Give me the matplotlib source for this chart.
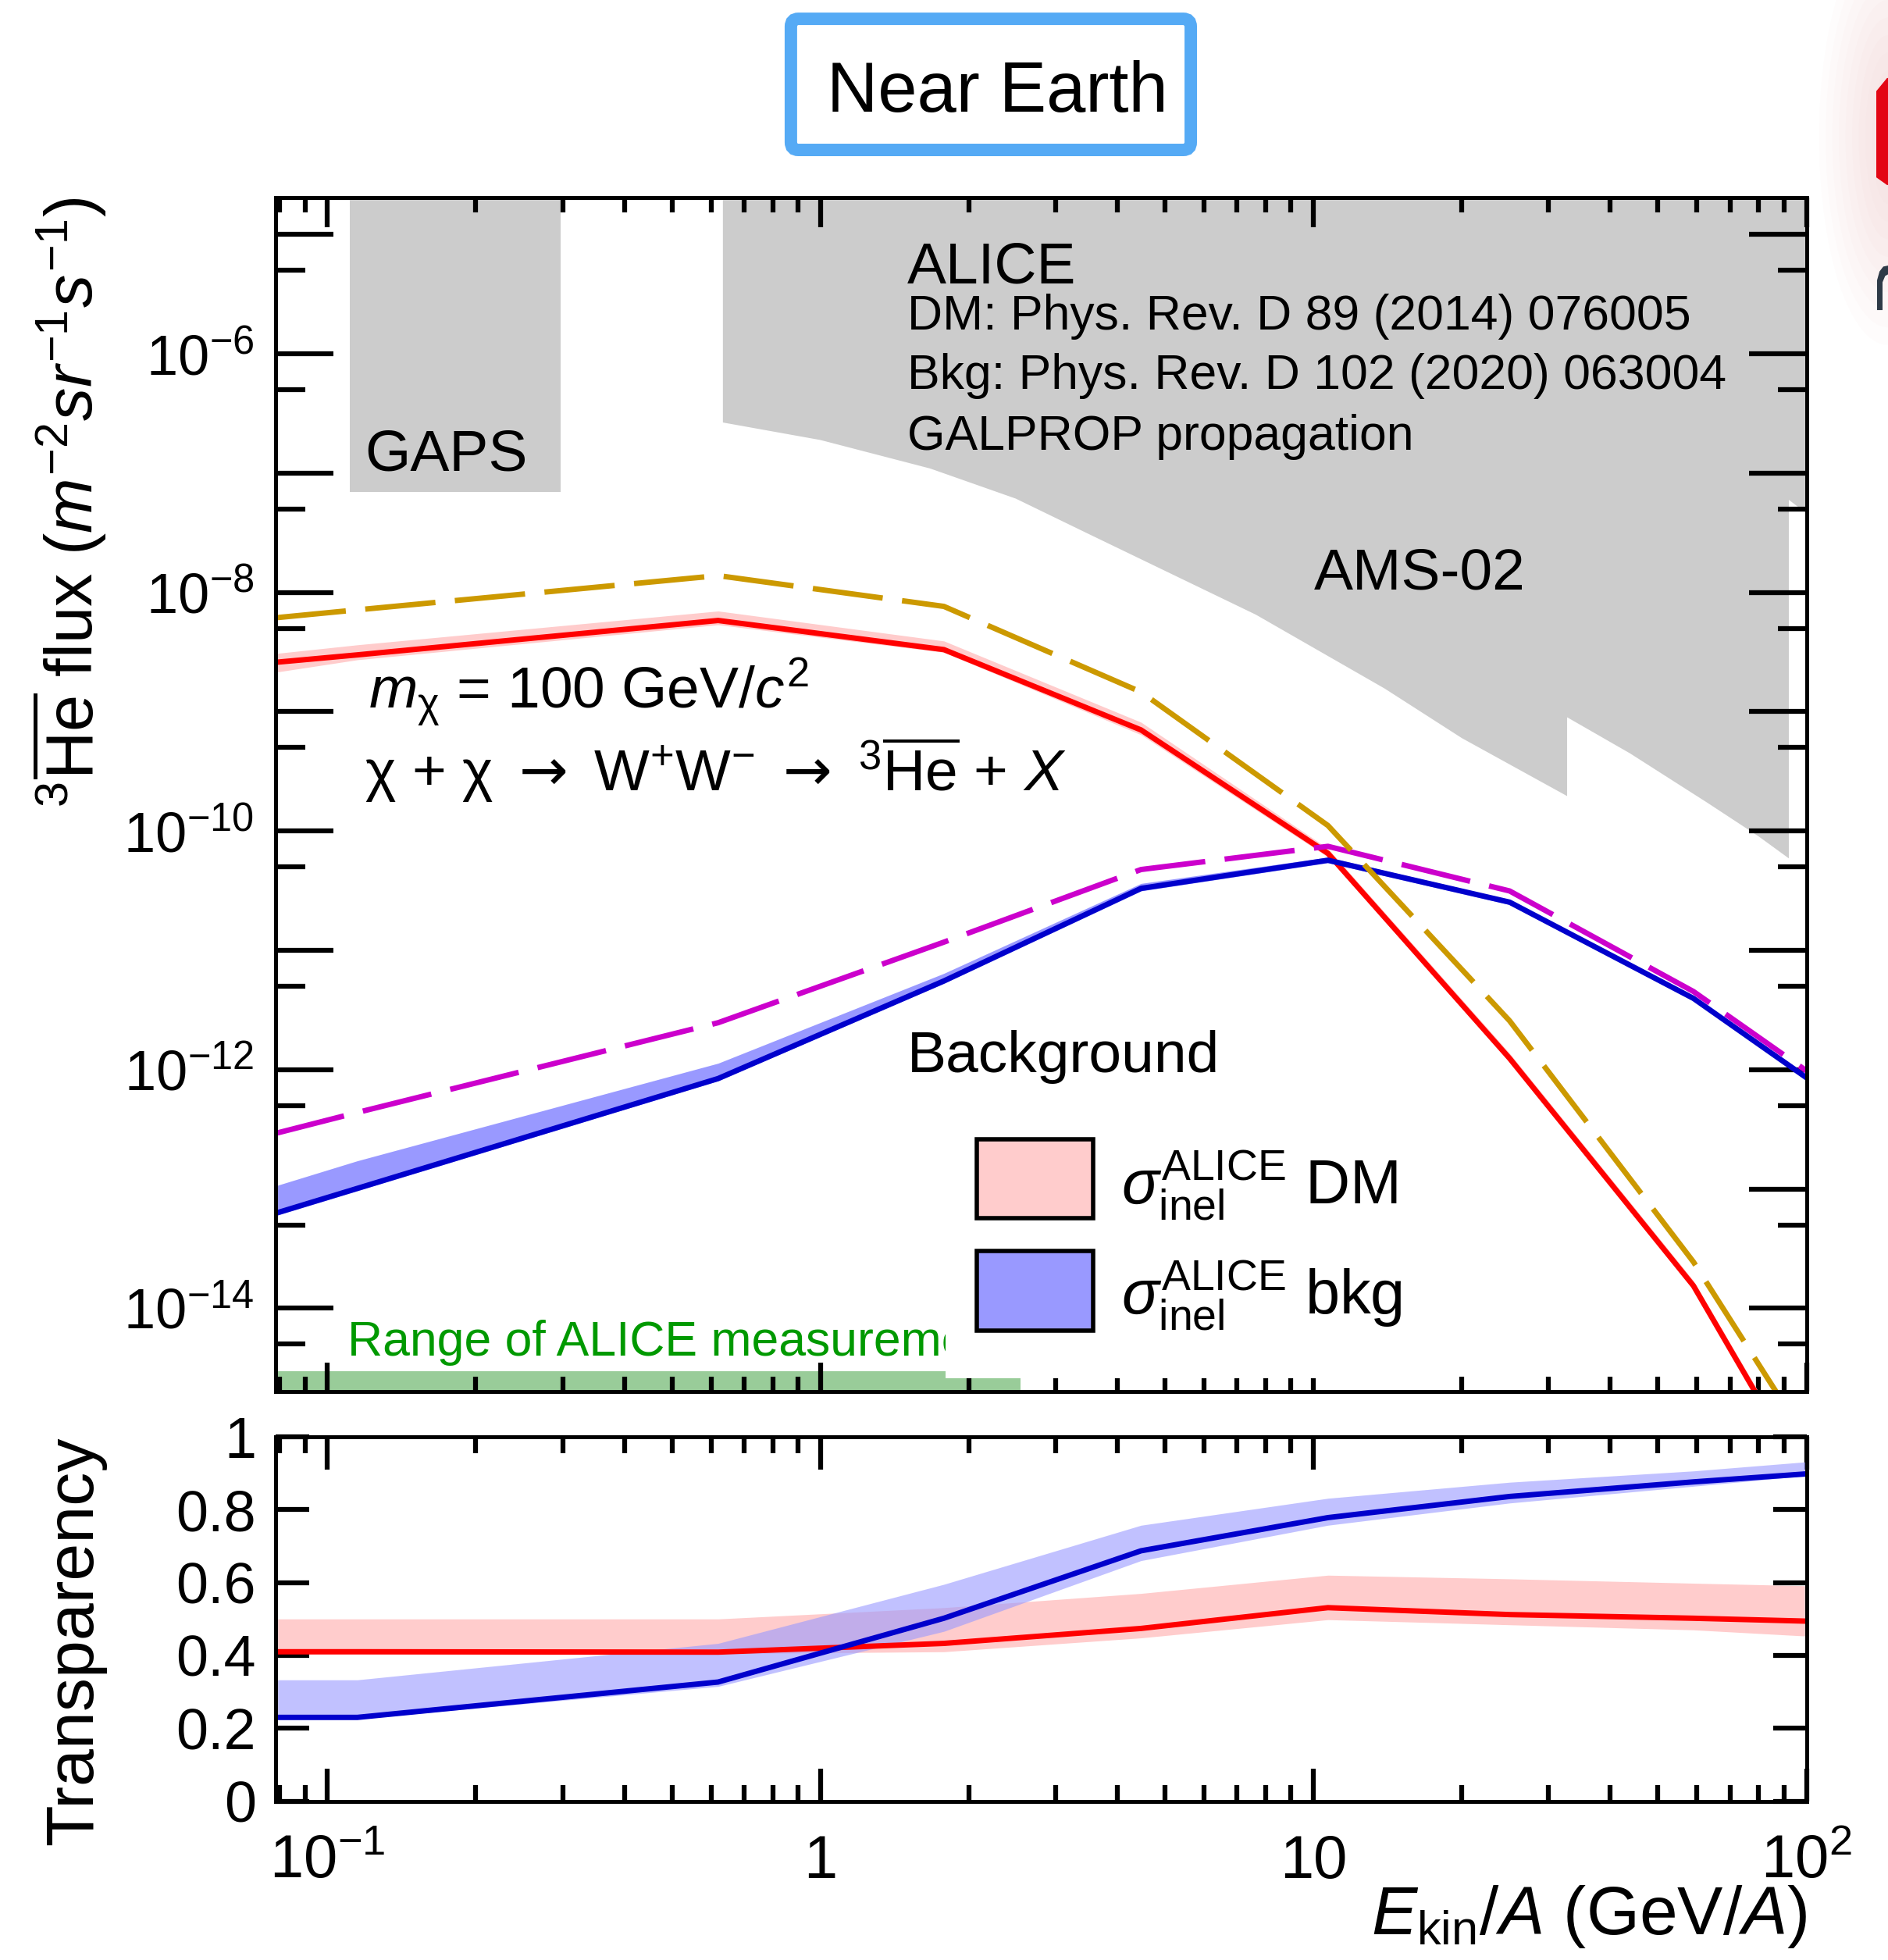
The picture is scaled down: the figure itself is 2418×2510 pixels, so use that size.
import numpy as np
import matplotlib
matplotlib.use("Agg")
import matplotlib.pyplot as plt
from matplotlib.patches import Rectangle, FancyBboxPatch, Polygon, Ellipse
from matplotlib.ticker import FixedLocator, FixedFormatter, LogLocator, NullFormatter

plt.rcParams["font.family"] = ["Liberation Sans", "DejaVu Sans"]
plt.rcParams["mathtext.fontset"] = "custom"
plt.rcParams["mathtext.rm"] = "Liberation Sans"
plt.rcParams["mathtext.it"] = "Liberation Sans:italic"
plt.rcParams["mathtext.bf"] = "Liberation Sans:bold"
plt.rcParams["mathtext.sf"] = "DejaVu Sans"
plt.rcParams["mathtext.fallback"] = "stixsans"

# kinetic energy per nucleon (GeV/A), grid shared by all curves
energy = [0.0785, 0.115, 0.62, 1.78, 4.47, 10.7, 25.0, 59.0, 100.0]

# 3He-bar flux near Earth (m^-2 sr^-1 s^-1)
dm_flux = [2.59e-9, 2.99e-9, 5.81e-9, 3.31e-9, 7.02e-10, 6.49e-11, 1.24e-12, 1.54e-14, 3.62e-16]
dm_flux_hi = [3.07e-9, 3.63e-9, 6.97e-9, 3.91e-9, 8.15e-10, 7.13e-11, 1.37e-12, 1.70e-14, 4.1e-16]
dm_flux_lo = [2.14e-9, 2.72e-9, 5.35e-9, 3.14e-9, 6.40e-10, 6.03e-11, 1.16e-12, 1.44e-14, 3.34e-16]
dm_flux_ref = [6.12e-9, 7.13e-9, 1.38e-8, 7.62e-9, 1.46e-9, 1.11e-10, 2.56e-12, 2.44e-14, 7.96e-16]

bkg_flux = [6.25e-14, 1.01e-13, 8.41e-13, 5.53e-12, 3.30e-11, 5.68e-11, 2.53e-11, 3.95e-12, 8.55e-13]
bkg_flux_hi = [1.06e-13, 1.72e-13, 1.13e-12, 6.40e-12, 3.63e-11, 6.03e-11, 2.65e-11, 4.15e-12, 9.08e-13]
bkg_flux_lo = [5.96e-14, 9.64e-14, 8.05e-13, 5.28e-12, 3.14e-11, 5.41e-11, 2.41e-11, 3.77e-12, 8.15e-13]
bkg_flux_ref = [2.92e-13, 4.37e-13, 2.47e-12, 1.17e-11, 4.75e-11, 7.43e-11, 3.14e-11, 4.51e-12, 9.77e-13]

# transparency
dm_transp = [0.410, 0.410, 0.409, 0.433, 0.474, 0.531, 0.512, 0.502, 0.494]
dm_transp_hi = [0.500, 0.500, 0.500, 0.531, 0.570, 0.620, 0.610, 0.598, 0.591]
dm_transp_lo = [0.405, 0.405, 0.405, 0.410, 0.448, 0.498, 0.484, 0.470, 0.453]
bkg_transp = [0.230, 0.230, 0.327, 0.502, 0.687, 0.778, 0.836, 0.876, 0.898]
bkg_transp_hi = [0.333, 0.333, 0.433, 0.595, 0.757, 0.831, 0.875, 0.906, 0.931]
bkg_transp_lo = [0.226, 0.226, 0.315, 0.466, 0.660, 0.757, 0.818, 0.864, 0.893]

# experimental sensitivities
gaps_energy = [0.111, 0.297]
gaps_flux_min = 6.9e-8
ams_energy = [0.634, 1.0, 1.67, 2.49, 3.49, 7.64, 13.95, 20.0, 32.7, 32.7, 43.9, 63.0, 80.0, 92.1, 92.1, 100.0]
ams_flux = [2.65e-7, 1.89e-7, 1.09e-7, 6.1e-8, 3.1e-8, 6.5e-9, 1.56e-9, 6.0e-10, 1.96e-10, 8.97e-10,
            4.46e-10, 1.72e-10, 9.0e-11, 5.89e-11, 5.96e-8, 4.6e-8]
alice_range_energy = [0.0785, 2.55]
alice_range_top = 2.96e-15

y_tick_values = [1e-15, 1e-14, 1e-13, 1e-12, 1e-11, 1e-10, 1e-9, 1e-8, 1e-7, 1e-6, 1e-5]
y_tick_labels = ["", r"$10^{-14}$", "", r"$10^{-12}$", "", r"$10^{-10}$", "", r"$10^{-8}$", "",
                 r"$10^{-6}$", ""]
y_minor_values = [5e-15, 5e-14, 5e-13, 5e-12, 5e-11, 5e-10, 5e-9, 5e-8, 5e-7, 5e-6]
x_tick_values = [0.1, 1, 10, 100]
x_tick_labels = [r"$10^{-1}$", "1", "10", r"$10^{2}$"]
t_tick_values = [0, 0.2, 0.4, 0.6, 0.8, 1.0]
t_tick_labels = ["0", "0.2", "0.4", "0.6", "0.8", "1"]

RED = "#ff0000"
PINK = "#ffcccc"
BLUE = "#0000cc"
LBLUE = "#9999ff"
GOLD = "#cc9900"
MAG = "#cc00cc"
GRAY = "#cccccc"
LW = 5.0
DASH = (13, 3.6)

fig = plt.figure(figsize=(24.18, 25.10), dpi=100)
ax1 = fig.add_axes([0.1460, 0.2900, 0.8108, 0.6094])
ax2 = fig.add_axes([0.1460, 0.0810, 0.8108, 0.1860])

xmin, xmax = 0.0785, 100.0
ymin, ymax = 2.0e-15, 2.05e-5

# ---- top panel: flux
ax1.set_xscale("log")
ax1.set_yscale("log")
ax1.set_xlim(xmin, xmax)
ax1.set_ylim(ymin, ymax)

ax1.fill_between(gaps_energy, gaps_flux_min, 1e-3, color=GRAY, lw=0, zorder=1)
ams_poly = list(zip(ams_energy, ams_flux)) + [(ams_energy[-1], 1e-3), (ams_energy[0], 1e-3)]
ax1.add_patch(Polygon(ams_poly, closed=True, fc=GRAY, ec="none", zorder=1))
ax1.fill_between(alice_range_energy, 1e-17, alice_range_top, color="#99cc99", lw=0, zorder=1)

ax1.fill_between(energy, dm_flux_lo, dm_flux_hi, color=PINK, lw=0, zorder=2)
ax1.fill_between(energy, bkg_flux_lo, bkg_flux_hi, color=LBLUE, lw=0, zorder=2)
ax1.plot(energy, dm_flux, color=RED, lw=LW, zorder=3)
ax1.plot(energy, bkg_flux, color=BLUE, lw=LW, zorder=3)
ax1.plot(energy, bkg_flux_ref, color=MAG, lw=LW, dashes=DASH, zorder=3)
ax1.plot(energy, dm_flux_ref, color=GOLD, lw=LW, dashes=DASH, zorder=3)

ax1.yaxis.set_major_locator(FixedLocator(y_tick_values))
ax1.yaxis.set_major_formatter(FixedFormatter(y_tick_labels))
ax1.yaxis.set_minor_locator(FixedLocator(y_minor_values))
ax1.yaxis.set_minor_formatter(NullFormatter())
ax1.xaxis.set_major_locator(FixedLocator(x_tick_values))
ax1.xaxis.set_minor_locator(LogLocator(base=10, subs=range(2, 10), numticks=20))
ax1.xaxis.set_major_formatter(NullFormatter())
ax1.xaxis.set_minor_formatter(NullFormatter())

tx = ax1.transAxes
ax1.text(0.4124, 0.9280, "ALICE", fontsize=54, transform=tx, zorder=4)
ax1.text(0.4124, 0.8890, "DM: Phys. Rev. D 89 (2014) 076005", fontsize=45, transform=tx, zorder=4)
ax1.text(0.4124, 0.8395, "Bkg: Phys. Rev. D 102 (2020) 063004", fontsize=45, transform=tx, zorder=4)
ax1.text(0.4124, 0.7887, "GALPROP propagation", fontsize=45, transform=tx, zorder=4)
ax1.text(0.0583, 0.7710, "GAPS", fontsize=54, transform=tx, zorder=4)
ax1.text(0.6784, 0.6715, "AMS-02", fontsize=54, transform=tx, zorder=4)
ax1.text(0.0607, 0.5712, r"$m_{\rm \chi}$ = 100 GeV/$c^{2}$", fontsize=54, transform=tx, zorder=4)
ax1.text(0.0580, 0.5025,
         r"${\rm \chi}$ + ${\rm \chi}$ $\mathsf{\rightarrow}$ W$^{+}$W$^{-}$ $\mathsf{\rightarrow}$ "
         r"$^{3}\overline{\rm He}$ + $X$",
         fontsize=54, transform=tx, zorder=4)
ax1.text(0.4124, 0.2676, "Background", fontsize=54, transform=tx, zorder=4)
ax1.text(0.0468, 0.0299, "Range of ALICE measurement", fontsize=45, color="#009900",
         transform=tx, zorder=4)

# legend (white box hides part of the green label)
ax1.add_patch(Rectangle((0.4378, 0.0110), 0.33, 0.234, transform=tx, fc="white", ec="none", zorder=5))
ax1.add_patch(Rectangle((0.4580, 0.1450), 0.0760, 0.0665, transform=tx, fc=PINK, ec="black", lw=4, zorder=6))
ax1.add_patch(Rectangle((0.4580, 0.0510), 0.0760, 0.0665, transform=tx, fc=LBLUE, ec="black", lw=4, zorder=6))
ax1.text(0.5526, 0.1574, r"$\sigma^{\rm ALICE}_{\rm inel}$ DM", fontsize=57, transform=tx, zorder=6)
ax1.text(0.5526, 0.0649, r"$\sigma^{\rm ALICE}_{\rm inel}$ bkg", fontsize=57, transform=tx, zorder=6)

# ---- bottom panel: transparency
ax2.set_xscale("log")
ax2.set_xlim(xmin, xmax)
ax2.set_ylim(0, 1)
ax2.fill_between(energy, dm_transp_lo, dm_transp_hi, color=PINK, lw=0, zorder=1)
ax2.fill_between(energy, bkg_transp_lo, bkg_transp_hi, color=LBLUE, alpha=0.6, lw=0, zorder=2)
ax2.plot(energy, dm_transp, color=RED, lw=LW, zorder=3)
ax2.plot(energy, bkg_transp, color=BLUE, lw=LW, zorder=3)

ax2.xaxis.set_major_locator(FixedLocator(x_tick_values))
ax2.xaxis.set_major_formatter(FixedFormatter(x_tick_labels))
ax2.xaxis.set_minor_locator(LogLocator(base=10, subs=range(2, 10), numticks=20))
ax2.xaxis.set_minor_formatter(NullFormatter())
ax2.yaxis.set_major_locator(FixedLocator(t_tick_values))
ax2.yaxis.set_major_formatter(FixedFormatter(t_tick_labels))

for ax in (ax1, ax2):
    for s in ax.spines.values():
        s.set_linewidth(3.6)
        s.set_zorder(10)
    ax.tick_params(which="both", direction="in", top=True, right=True, width=4.5, colors="black")

ax1.tick_params(axis="y", which="major", length=53, labelsize=52, pad=20)
ax1.tick_params(axis="y", which="minor", length=27)
ax1.tick_params(axis="x", which="major", length=27)
ax1.tick_params(axis="x", which="minor", length=14)
ax2.tick_params(axis="y", which="major", length=31, labelsize=53, pad=18)
ax2.tick_params(axis="x", which="major", length=30, labelsize=56, pad=30)
ax2.tick_params(axis="x", which="minor", length=15)

# axis titles
fig.text(0.0364, 0.8994, r"$^{3}\overline{\rm He}$ flux ($m^{-2}sr^{-1}s^{-1}$)", fontsize=61,
         rotation=90, ha="center", va="top")
fig.text(0.0397, 0.2670, "Transparency", fontsize=62, rotation=90, ha="center", va="top")
fig.text(0.9574, 0.0132, r"$E_{\rm kin}/A$ (GeV/$A$)", fontsize=63, ha="right", va="baseline")

# "Near Earth" tag
fig.patches.append(FancyBboxPatch((0.4189, 0.9235), 0.2118, 0.0669,
                                  boxstyle="round,pad=0,rounding_size=0.004",
                                  transform=fig.transFigure, fc="white", ec="#55aaf5", lw=11.5))
fig.text(0.5284, 0.9431, "Near Earth", fontsize=65, ha="center", va="baseline")

# cut-off logo at the right edge
for k in range(10):
    fig.patches.append(Ellipse((1.0, 0.93), 0.010 + 0.007 * k, 0.05 + 0.018 * k,
                               transform=fig.transFigure, fc="#f2b8b8", ec="none", alpha=0.04))
fig.patches.append(Polygon([(0.9938, 0.9535), (0.9995, 0.9602), (1.0, 0.9602), (1.0, 0.9056),
                            (0.9995, 0.9056), (0.9938, 0.9095)], closed=True,
                           transform=fig.transFigure, fc="#e30613", ec="none"))
fig.patches.append(Polygon([(0.9942, 0.8418), (0.9971, 0.8418), (0.9971, 0.8560), (0.9985, 0.8592),
                            (1.0, 0.8600), (1.0, 0.8645), (0.9975, 0.8640), (0.9955, 0.8615),
                            (0.9942, 0.8570)], closed=True,
                           transform=fig.transFigure, fc="#2e3a47", ec="none"))

fig.savefig("out.png", dpi=100)
